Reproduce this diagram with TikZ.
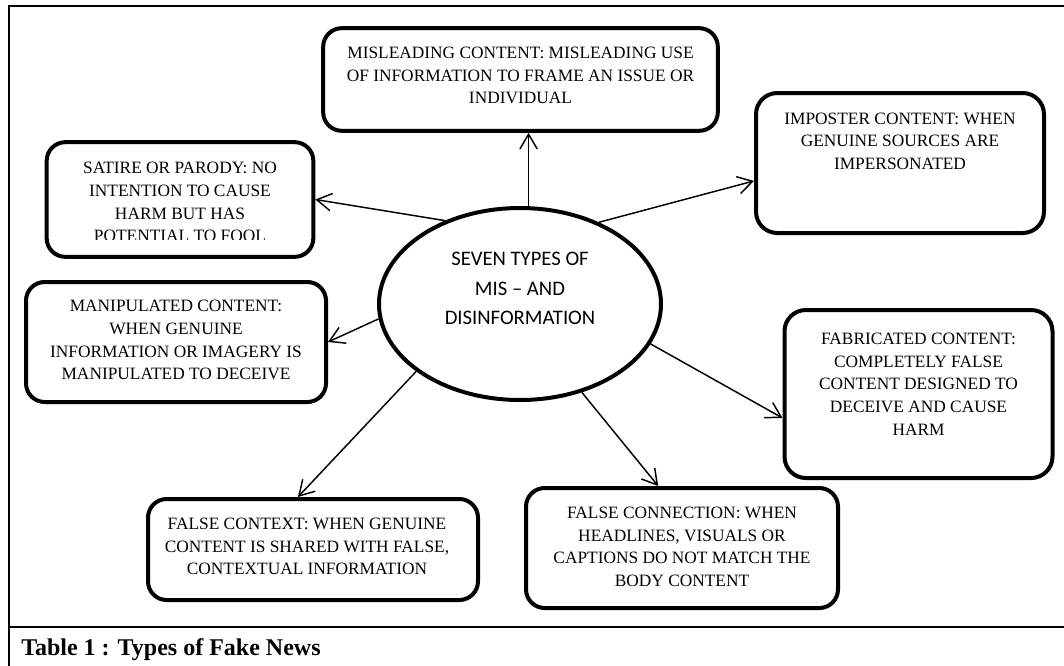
\documentclass[tikz,border=0pt]{standalone}
\usepackage{fontspec}
\setmainfont{Liberation Serif}
\newfontfamily\hubfont{Carlito}
\usetikzlibrary{shapes.geometric, arrows.meta, positioning}
\tikzset{
	card/.style    ={rectangle, rounded corners=14pt, draw=black, line width=3pt, inner sep=0pt},
	cardtext/.style={anchor=north, align=center, inner sep=0pt, font=\fontsize{13}{17}\selectfont},
	hub/.style     ={ellipse, draw=black, line width=3pt, inner sep=0pt},
	hubtext/.style ={anchor=north, align=center, inner sep=0pt, font=\hubfont\fontsize{15.5}{22}\selectfont},
	spoke/.style   ={-{Straight Barb[length=11pt, width=13pt]}, line width=1.1pt},
	frame/.style   ={line width=2.2pt},
}

\begin{document}
\begin{tikzpicture}[x=0.75pt, y=-0.75pt]
			\clip (0,0) rectangle (1064,665);
			% outer frame and caption rule
			\draw[frame] (9,700) |- (1100,6);
			\draw[frame] (9,627) -- (1100,627);
			% centre
			\node[hub, minimum width=211.5pt, minimum height=144pt] (hub) at (520,304) {};
			\node[hubtext] (hubT) at ([yshift=39pt]hub.center) {SEVEN TYPES OF\\ MIS – AND\\ DISINFORMATION};
			% the seven types
			\node[card, minimum width=296pt, minimum height=77pt] (mis) at (520.5,79.5) {};
			\node[card, rounded corners=16pt, minimum width=216pt, minimum height=105pt] (imp) at (900,163) {};
			\node[card, minimum width=200pt, minimum height=86pt] (sat) at (180,199.5) {};
			\node[card, minimum width=225pt, minimum height=90pt] (man) at (176,342) {};
			\node[card, rounded corners=16pt, minimum width=201pt, minimum height=126pt] (fab) at (918.5,394) {};
			\node[card, minimum width=234pt, minimum height=90pt] (con) at (682,548) {};
			\node[card, minimum width=247.5pt, minimum height=75.75pt] (ctx) at (313,549.5) {};
			\node[cardtext] (misT) at ([yshift=-15.5pt]mis.north) {MISLEADING CONTENT: MISLEADING USE\\ OF INFORMATION TO FRAME AN ISSUE OR\\ INDIVIDUAL};
			\node[cardtext] (impT) at ([yshift=-16pt]imp.north) {IMPOSTER CONTENT: WHEN\\ GENUINE SOURCES ARE\\ IMPERSONATED};
			\begin{scope}
				\clip (40,135) rectangle (320,239.5);
				\node[cardtext] (satT) at ([yshift=-16.5pt]sat.north) {SATIRE OR PARODY: NO\\ INTENTION TO CAUSE\\ HARM BUT HAS\\ POTENTIAL TO FOOL};
			\end{scope}
			\node[cardtext] (manT) at ([yshift=-15pt]man.north) {MANIPULATED CONTENT:\\ WHEN GENUINE\\ INFORMATION OR IMAGERY IS\\ MANIPULATED TO DECEIVE};
			\node[cardtext] (fabT) at ([yshift=-18.5pt]fab.north) {FABRICATED CONTENT:\\ COMPLETELY FALSE\\ CONTENT DESIGNED TO\\ DECEIVE AND CAUSE\\ HARM};
			\node[cardtext] (conT) at ([yshift=-15.5pt]con.north) {FALSE CONNECTION: WHEN\\ HEADLINES, VISUALS OR\\ CAPTIONS DO NOT MATCH THE\\ BODY CONTENT};
			\node[cardtext] (ctxT) at ([xshift=-4.5pt, yshift=-15.5pt]ctx.north) {FALSE CONTEXT: WHEN GENUINE\\ CONTENT IS SHARED WITH FALSE,\\ CONTEXTUAL INFORMATION};
			% spokes
			\draw[spoke] (hub.85) -- (hub.85 |- mis.south);
			\draw[spoke] (hub.132) -- (sat.east);
			\draw[spoke] (hub.46) -- (imp.187);
			\draw[spoke] (hub.186) -- (man.east);
			\draw[spoke] (hub.213) -- (ctx.106);
			\draw[spoke] (hub.305) -- (con.111);
			\draw[spoke] (hub.343) -- (fab.190);
			\node[anchor=base west, inner sep=0pt, font=\bfseries\fontsize{18}{22}\selectfont] (cap) at (21,655) {Table 1 : Types of Fake News};
		\end{tikzpicture}
\end{document}
